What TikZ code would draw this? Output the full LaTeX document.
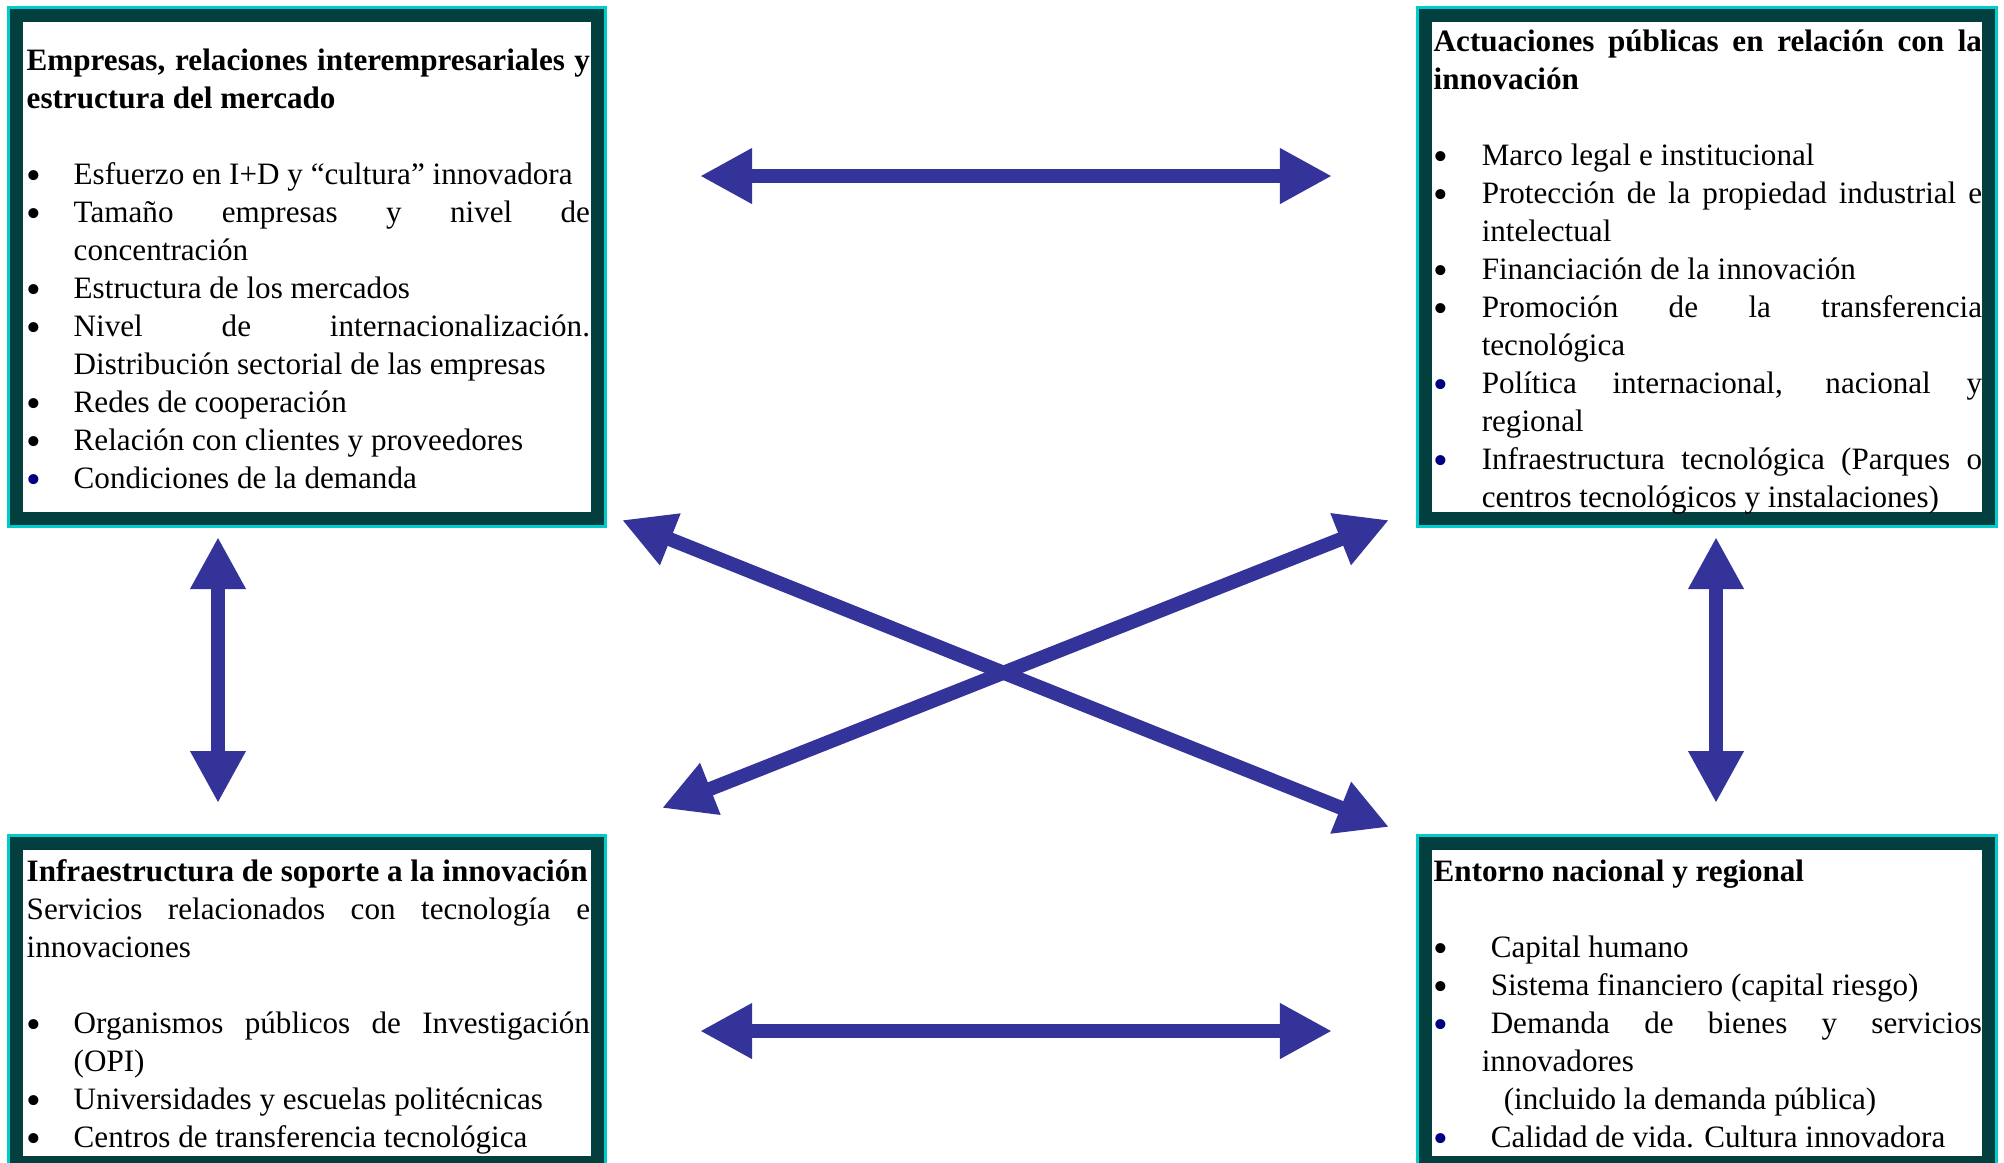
\documentclass[tikz,border=0pt]{standalone}
\usepackage{fontspec}
\setmainfont{Liberation Serif}
\usetikzlibrary{arrows.meta}
\definecolor{framecyan}{RGB}{0,204,204}
\definecolor{frameteal}{RGB}{3,63,63}
\definecolor{arrowblue}{RGB}{51,51,153}
\definecolor{bulletblue}{RGB}{0,0,128}
\hyphenpenalty=10000
\exhyphenpenalty=10000
\tolerance=10000
\newlength\bhang
\newcommand{\bitem}[2][black]{\par\hangindent=\bhang\hangafter=1\noindent\makebox[\bhang][l]{\textcolor{#1}{\raisebox{-1.4pt}{\scalebox{1.35}{•}}}}#2}
\newcommand{\blankline}{\par\mbox{}}
\tikzset{
  frame/.style={fill=white, draw=frameteal, line width=0.13cm, inner sep=0, outer sep=0,
    preaction={draw=framecyan, line width=0.20cm}},
  textbox/.style={inner sep=0, anchor=base west, align=justify,
    font=\fontsize{8.85}{10.82}\selectfont},
  biarrow/.style={draw=arrowblue, line width=0.14cm,
    {Triangle[length=0.52cm,width=0.52cm]}-{Triangle[length=0.52cm,width=0.52cm]}}
}
\begin{document}
\begin{tikzpicture}[x=0.01cm, y=-0.01cm]
          \useasboundingbox (0,0) rectangle (2004,1162);
          \clip (0,0) rectangle (2004,1162);
          % frames
          \node[frame, minimum width=5.80cm, minimum height=5.02cm] (empresas) at (307,267) {};
          \node[frame, minimum width=5.62cm, minimum height=5.02cm] (actuaciones) at (1707,267) {};
          \node[frame, minimum width=5.80cm, minimum height=3.18cm] (infraestructura) at (307,1003) {};
          \node[frame, minimum width=5.62cm, minimum height=3.18cm] (entorno) at (1707,1003) {};
          % texts
          \node[textbox, text width=5.63cm] (empresas-txt) at (26,70) {\setlength\bhang{0.47cm}%
            \textbf{Empresas, relaciones interempresariales y\linebreak estructura del mercado}
            \blankline
            \bitem{Esfuerzo en I+D y “cultura” innovadora}
            \bitem{Tamaño empresas y nivel de\linebreak concentración}
            \bitem{Estructura de los mercados}
            \bitem{Nivel de internacionalización.\linebreak Distribución sectorial de las empresas}
            \bitem{Redes de cooperación}
            \bitem{Relación con clientes y proveedores}
            \bitem[bulletblue]{Condiciones de la demanda}\par};
          \node[textbox, text width=5.48cm] (actuaciones-txt) at (1433,51) {\setlength\bhang{0.48cm}%
            \textbf{Actuaciones públicas en relación con la\linebreak innovación}
            \blankline
            \bitem{Marco legal e institucional}
            \bitem{Protección de la propiedad industrial e\linebreak intelectual}
            \bitem{Financiación de la innovación}
            \bitem{Promoción de la transferencia\linebreak tecnológica}
            \bitem[bulletblue]{Política internacional, nacional y\linebreak regional}
            \bitem[bulletblue]{Infraestructura tecnológica (Parques o\linebreak centros tecnológicos y instalaciones)}\par};
          \node[textbox, text width=5.63cm] (infraestructura-txt) at (26,881) {\setlength\bhang{0.47cm}%
            \textbf{Infraestructura de soporte a la innovación}\par
            Servicios relacionados con tecnología e\linebreak innovaciones
            \blankline
            \bitem{Organismos públicos de Investigación\linebreak (OPI)}
            \bitem{Universidades y escuelas politécnicas}
            \bitem{Centros de transferencia tecnológica}\par};
          \node[textbox, text width=5.48cm] (entorno-txt) at (1433,881) {\setlength\bhang{0.48cm}%
            \textbf{Entorno nacional y regional}
            \blankline
            \bitem{\hspace*{0.09cm}Capital humano}
            \bitem{\hspace*{0.09cm}Sistema financiero (capital riesgo)}
            \bitem[bulletblue]{\hspace*{0.09cm}Demanda de bienes y servicios\linebreak innovadores\newline\hspace*{0.22cm}(incluido la demanda pública)}
            \bitem[bulletblue]{\hspace*{0.09cm}Calidad de vida. Cultura innovadora}\par};
          % arrow ends
          \coordinate (top-l) at (700,176);
          \coordinate (top-r) at (1332,176);
          \coordinate (bot-l) at (700,1031);
          \coordinate (bot-r) at (1332,1031);
          \coordinate (left-t) at (218,537);
          \coordinate (left-b) at (218,803);
          \coordinate (right-t) at (1716,537);
          \coordinate (right-b) at (1716,803);
          \coordinate (diag-tl) at (622,520);
          \coordinate (diag-br) at (1389,827);
          \coordinate (diag-bl) at (662,808);
          \coordinate (diag-tr) at (1389,520);
          % arrows
          \draw[biarrow] (top-l) -- (top-r);
          \draw[biarrow] (bot-l) -- (bot-r);
          \draw[biarrow] (left-t) -- (left-b);
          \draw[biarrow] (right-t) -- (right-b);
          \draw[biarrow] (diag-tl) -- (diag-br);
          \draw[biarrow] (diag-bl) -- (diag-tr);
        \end{tikzpicture}
\end{document}
